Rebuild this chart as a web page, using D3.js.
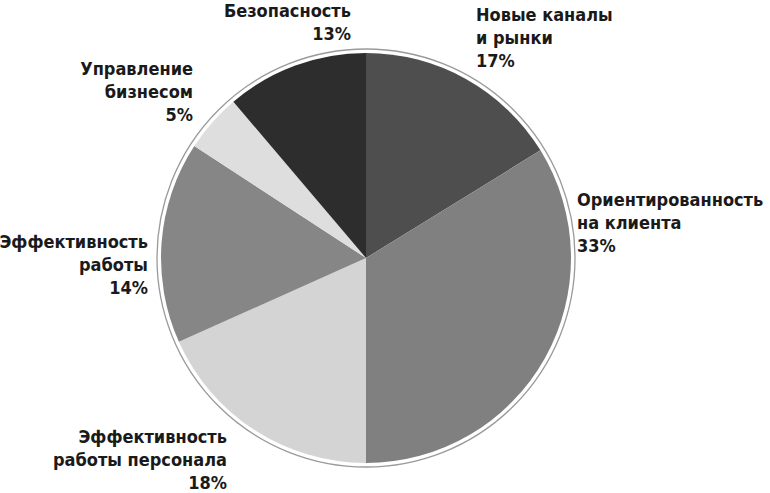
<!DOCTYPE html>
<html>
<head>
<meta charset="utf-8">
<script src="https://cdn.jsdelivr.net/npm/d3@7"></script>
<style>
  body { margin: 0; background: #fff; }
  text { font-family: "DejaVu Sans Condensed", "Liberation Sans Narrow", "Roboto", sans-serif; font-weight: bold; font-size: 18px; fill: #1a1a1a; }
</style>
</head>
<body>
<div id="chart"></div>
<script>
// slices clockwise from 12 o'clock
var labels = [
  ["Новые каналы", "и рынки"],
  ["Ориентированность", "на клиента"],
  ["Эффективность", "работы персонала"],
  ["Эффективность", "работы"],
  ["Управление", "бизнесом"],
  ["Безопасность"]
];
// percentages as printed
var percents = ["17%", "33%", "18%", "14%", "5%", "13%"];
// slice sizes as drawn in the picture (the drawing is not exactly to the printed figures)
var shares = [16.2, 33.8, 18.3, 15.9, 4.6, 11.2];
var colors = ["#4e4e4e", "#808080", "#d4d4d4", "#868686", "#dedede", "#2d2d2d"];

// label anchor points (x, first baseline) and alignment
var labelPos = [
  { x: 476, y: 21, anchor: "start" },
  { x: 577, y: 206, anchor: "start" },
  { x: 227, y: 443, anchor: "end" },
  { x: 148, y: 248, anchor: "end" },
  { x: 193, y: 75, anchor: "end" },
  { x: 351, y: 17, anchor: "end" }
];

var width = 770, height = 493;
var cx = 366, cy = 258, radius = 205;

var svg = d3.select("#chart")
  .append("svg")
  .attr("width", width)
  .attr("height", height);

var g = svg.append("g")
  .attr("transform", "translate(" + cx + "," + cy + ")");

var pie = d3.pie().sort(null).value(function (d) { return d; });
var arc = d3.arc().innerRadius(0).outerRadius(radius);

// thin outer ring
g.append("circle")
  .attr("r", radius + 4)
  .attr("fill", "none")
  .attr("stroke", "#9a9a9a")
  .attr("stroke-width", 1.3);

g.selectAll("path")
  .data(pie(shares))
  .enter()
  .append("path")
  .attr("d", arc)
  .attr("fill", function (d, i) { return colors[i]; });

// labels
var lineH = 23;
labels.forEach(function (lines, i) {
  var p = labelPos[i];
  var t = svg.append("text")
    .attr("x", p.x)
    .attr("y", p.y)
    .attr("text-anchor", p.anchor);
  lines.concat([percents[i]]).forEach(function (s, k) {
    t.append("tspan")
      .attr("x", p.x)
      .attr("dy", k === 0 ? 0 : lineH)
      .text(s);
  });
});
</script>
</body>
</html>
